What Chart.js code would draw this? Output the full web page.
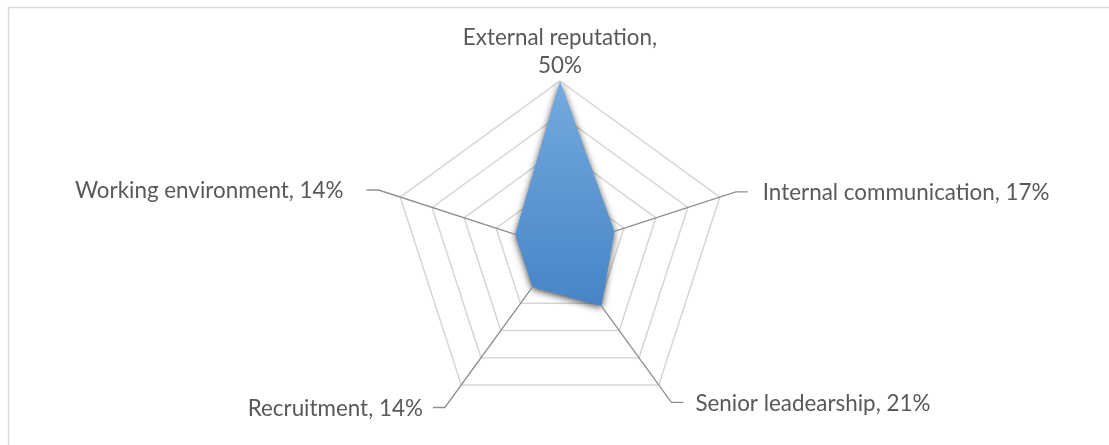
<!DOCTYPE html>
<html>
<head>
<meta charset="utf-8">
<script src="https://cdn.jsdelivr.net/npm/chart.js@4/dist/chart.umd.min.js"></script>
<style>
  html, body { margin: 0; padding: 0; background: #fff; }
  canvas { display: block; }
</style>
</head>
<body>
<canvas id="radar" width="1109" height="445"></canvas>
<script>
// chart data
const categories = ['External reputation', 'Internal communication', 'Senior leadearship', 'Recruitment', 'Working environment'];
const shares = [50, 17, 21, 14, 14];
const scaleMax = 50;
const scaleStep = 10;

// label placement: where the leader line ends (in axis units), gap to text
const leaderEnd = [0, 55, 56.4, 58.3, 56.8];
const textGap = [0, 15, 12, 10, 23];
const FONT = '22.4px Lato, "Open Sans", sans-serif';
const TEXT_COLOR = '#595959';
const LEADER_COLOR = '#8f8f8f';

const frame = {
    id: 'frame',
    beforeDraw(chart) {
        const ctx = chart.ctx;
        ctx.save();
        ctx.strokeStyle = '#d9d9d9';
        ctx.lineWidth = 1.5;
        ctx.strokeRect(8.5, 7.5, chart.width + 20, chart.height + 20);
        ctx.restore();
    }
};

// soft dark shadow round the filled area (set before the filler draws)
const shadow = {
    id: 'shadow',
    beforeDatasetsDraw(chart) {
        const ctx = chart.ctx;
        ctx.save();
        ctx.shadowColor = 'rgba(0,0,0,0.7)';
        ctx.shadowBlur = 7;
        ctx.shadowOffsetX = 0;
        ctx.shadowOffsetY = 2;
    },
    afterDatasetsDraw(chart) {
        chart.ctx.restore();
    }
};

const leaderLabels = {
    id: 'leaderLabels',
    afterDatasetsDraw(chart) {
        const ctx = chart.ctx;
        const r = chart.scales.r;
        const pts = chart.getDatasetMeta(0).data;
        ctx.save();
        ctx.shadowColor = 'transparent';
        ctx.font = FONT;
        ctx.fillStyle = TEXT_COLOR;
        ctx.textBaseline = 'middle';
        categories.forEach((name, i) => {
            const text = name + ', ' + shares[i] + '%';
            if (i === 0) {
                // top label sits straight above the axis end, split on two lines
                const top = r.getPointPosition(0, r.getDistanceFromCenterForValue(scaleMax));
                ctx.textAlign = 'center';
                ctx.fillText(name + ',', top.x, top.y - 43);
                ctx.fillText(shares[i] + '%', top.x, top.y - 15);
                return;
            }
            const p = pts[i];
            const end = r.getPointPosition(i, r.getDistanceFromCenterForValue(leaderEnd[i]));
            const right = end.x > r.xCenter;
            const tickX = end.x + (right ? 12 : -12);
            ctx.strokeStyle = LEADER_COLOR;
            ctx.lineWidth = 1.3;
            ctx.beginPath();
            ctx.moveTo(p.x, p.y);
            ctx.lineTo(end.x, end.y);
            ctx.lineTo(tickX, end.y);
            ctx.stroke();
            ctx.textAlign = right ? 'left' : 'right';
            ctx.fillText(text, tickX + (right ? textGap[i] : -textGap[i]), end.y + 1);
        });
        ctx.restore();
    }
};

new Chart(document.getElementById('radar'), {
    type: 'radar',
    data: {
        labels: categories,
        datasets: [{
            data: shares,
            borderWidth: 0,
            pointRadius: 0,
            fill: true,
            backgroundColor: ctx => {
                const chart = ctx.chart;
                const r = chart.scales.r;
                if (!r || !chart.chartArea) return '#5b9bd5';
                const g = chart.ctx.createLinearGradient(0, r.yCenter - r.drawingArea, 0, r.yCenter + r.drawingArea * 0.45);
                g.addColorStop(0, '#74aade');
                g.addColorStop(1, '#4282c6');
                return g;
            }
        }]
    },
    options: {
        responsive: false,
        animation: false,
        layout: { padding: { left: 360, right: 349, top: 81, bottom: 28 } },
        plugins: { legend: { display: false }, tooltip: { enabled: false } },
        scales: {
            r: {
                min: 0,
                max: scaleMax,
                ticks: { stepSize: scaleStep, display: false },
                grid: { color: '#d6d6d6', lineWidth: 1.5 },
                angleLines: { display: false },
                pointLabels: { display: false }
            }
        }
    },
    plugins: [frame, shadow, leaderLabels]
});
</script>
</body>
</html>
